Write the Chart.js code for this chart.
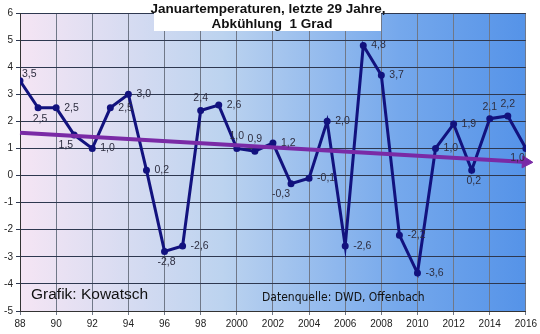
<!DOCTYPE html>
<html>
<head>
<meta charset="utf-8">
<script src="https://cdn.jsdelivr.net/npm/chart.js@4/dist/chart.umd.min.js"></script>
<style>
  html, body { margin: 0; padding: 0; background: #fff; }
  #wrap { width: 540px; height: 334px; position: relative; }
</style>
</head>
<body>
<div id="wrap"><canvas id="temp"></canvas></div>
<script>
// Januartemperaturen 1988 - 2016 (DWD)
var jahre = [1988, 1989, 1990, 1991, 1992, 1993, 1994, 1995, 1996, 1997,
             1998, 1999, 2000, 2001, 2002, 2003, 2004, 2005, 2006, 2007,
             2008, 2009, 2010, 2011, 2012, 2013, 2014, 2015, 2016];
var werte = [3.5, 2.5, 2.5, 1.5, 1.0, 2.5, 3.0, 0.2, -2.8, -2.6,
             2.4, 2.6, 1.0, 0.9, 1.2, -0.3, -0.1, 2.0, -2.6, 4.8,
             3.7, -2.2, -3.6, 1.0, 1.9, 0.2, 2.1, 2.2, 1.0];
// Trendlinie (Anfang / Ende)
var trendJahre = [1988, 2016];
var trendWerte = [1.58, 0.5];

// Lage der Beschriftung je Punkt: r = rechts, u = unten, o = oben, ul = unten links
var labelPos = ['or', 'u', 'r', 'ul', 'r', 'r', 'r', 'r', 'u', 'r',
                'o', 'r', 'o', 'o', 'r', 'ul', 'r', 'r', 'r', 'r',
                'r', 'r', 'r', 'r', 'r', 'u', 'o', 'o', 'ul'];

var punkte = jahre.map(function (j, i) { return { x: j, y: werte[i] }; });
var trend = trendJahre.map(function (j, i) { return { x: j, y: trendWerte[i] }; });

// Hintergrund mit Farbverlauf im Diagrammbereich
var hintergrund = {
  id: 'hintergrund',
  beforeDraw: function (chart) {
    var c = chart.ctx, a = chart.chartArea;
    var g = c.createLinearGradient(a.left, 0, a.right, 0);
    g.addColorStop(0, '#f5e5f4');
    g.addColorStop(0.4, '#bcd3ef');
    g.addColorStop(0.75, '#75a8ec');
    g.addColorStop(1, '#5593e8');
    c.save();
    c.fillStyle = g;
    c.fillRect(a.left, a.top, a.right - a.left, a.bottom - a.top);
    c.restore();
  }
};

// Werte beschriften + Titelkasten + Texte
var beschriftung = {
  id: 'beschriftung',
  afterDatasetsDraw: function (chart) {
    var c = chart.ctx;
    var meta = chart.getDatasetMeta(0);
    c.save();
    c.font = '10.5px "Liberation Sans", Arial, sans-serif';
    c.fillStyle = '#2e2e40';
    c.textBaseline = 'middle';
    meta.data.forEach(function (p, i) {
      var t = werte[i].toFixed(1).replace('.', ',');
      var w = c.measureText(t).width;
      var x = p.x, y = p.y;
      switch (labelPos[i]) {
        case 'r': x = p.x + 8; y = p.y; break;
        case 'u': x = p.x - w / 2 + 2; y = p.y + 11; break;
        case 'o': x = p.x - w / 2; y = p.y - 12; break;
        case 'ul': x = p.x - w - 1; y = p.y + 10; break;
        case 'or': x = p.x + 2; y = p.y - 7; break;
      }
      c.fillText(t, x, y);
    });
    c.restore();
  },
  afterDraw: function (chart) {
    var c = chart.ctx;
    c.save();
    c.fillStyle = '#ffffff';
    c.fillRect(154, 0, 227, 31);
    c.fillStyle = '#111';
    c.font = 'bold 13.5px "Liberation Sans", Arial, sans-serif';
    c.textAlign = 'center';
    c.textBaseline = 'middle';
    c.fillText('Januartemperaturen, letzte 29 Jahre,', 268, 9);
    c.fillText('Abkühlung  1 Grad', 272, 24);
    c.textAlign = 'left';
    c.font = '15.5px "Liberation Sans", Arial, sans-serif';
    c.fillText('Grafik: Kowatsch', 31, 295);
    c.font = '12px "DejaVu Sans Condensed", "Liberation Sans Narrow", sans-serif';
    c.fillText('Datenquelle: DWD, Offenbach', 262, 298);
    c.restore();
  }
};

var ctx = document.getElementById('temp').getContext('2d');
var chart = new Chart(ctx, {
  type: 'line',
  data: {
    datasets: [{
      label: 'Januar',
      data: punkte,
      borderColor: '#12127e',
      backgroundColor: '#12127e',
      borderWidth: 3,
      pointRadius: 2,
      pointHoverRadius: 2,
      tension: 0,
      order: 1
    }, {
      label: 'Trend',
      data: trend,
      borderColor: '#7a2aa6',
      backgroundColor: '#7a2aa6',
      borderWidth: 4,
      pointStyle: 'triangle',
      pointRadius: [0, 7],
      pointRotation: 93,
      pointBorderWidth: 1,
      clip: false,
      order: 0
    }]
  },
  options: {
    responsive: true,
    maintainAspectRatio: false,
    animation: false,
    layout: { padding: { top: 13, right: 14, left: 0, bottom: 0 } },
    plugins: {
      legend: { display: false },
      title: { display: false },
      tooltip: { enabled: false }
    },
    scales: {
      x: {
        type: 'linear',
        min: 1988,
        max: 2016,
        afterFit: function (s) { s.height = 23; },
        ticks: {
          stepSize: 2,
          color: '#222',
          font: { size: 10, family: '"Liberation Sans", Arial, sans-serif' },
          maxRotation: 0,
          callback: function (v) { return v < 2000 ? String(v - 1900) : String(v); }
        },
        grid: { color: '#707888', lineWidth: 1, tickLength: 4 },
        border: { color: '#333' }
      },
      y: {
        min: -5,
        max: 6,
        afterFit: function (s) { s.width = 20; },
        ticks: {
          stepSize: 1,
          color: '#222',
          font: { size: 10, family: '"Liberation Sans", Arial, sans-serif' },
          padding: 3
        },
        grid: { color: '#2e3850', lineWidth: 1, tickLength: 4 },
        border: { color: '#333' }
      }
    }
  },
  plugins: [hintergrund, beschriftung]
});
</script>
</body>
</html>
